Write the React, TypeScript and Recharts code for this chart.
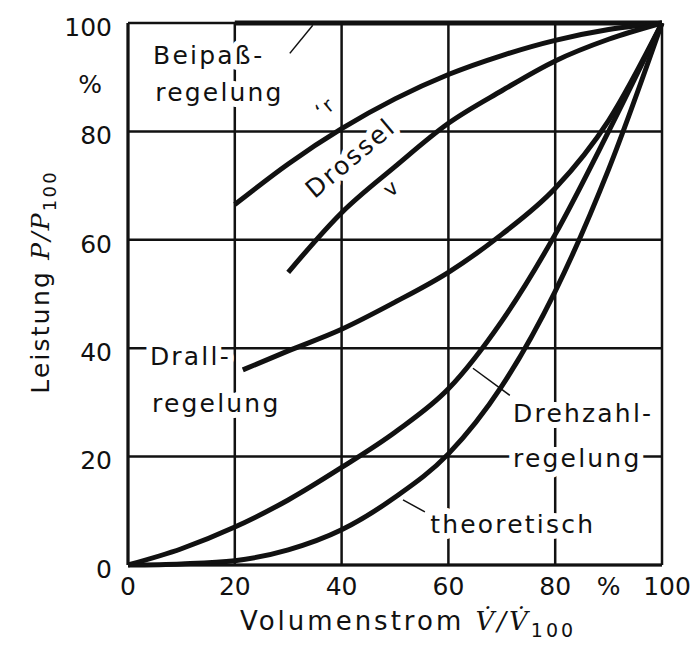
import { CartesianGrid, ComposedChart, Label, Line, Scatter, XAxis, YAxis } from 'recharts';

// Leistungsbedarf bei verschiedenen Regelungsarten
const beipassX = [20, 100];
const beipassY = [100, 100];
const drosselRX = [20, 30, 40, 50, 60, 70, 80, 90, 100];
const drosselRY = [66.5, 74, 80.5, 86, 90.5, 94, 96.8, 98.8, 100];
const drosselVX = [30, 40, 50, 60, 70, 80, 90, 100];
const drosselVY = [54, 65, 73.5, 81.5, 87.5, 93, 97, 100];
const drallX = [21.5, 30, 40, 50, 60, 70, 80, 90, 100];
const drallY = [36, 39.5, 43.5, 48.5, 54, 61, 69.5, 82, 100];
const drehzahlX = [0, 10, 20, 30, 40, 50, 60, 70, 80, 90, 100];
const drehzahlY = [0, 3, 7, 12, 18, 24.5, 32.5, 45, 61, 80, 100];
const theoX = [0, 10, 20, 30, 40, 50, 60, 70, 80, 90, 100];
const theoY = [0, 0.2, 0.8, 2.8, 6.5, 12.5, 20.5, 33, 50.5, 73, 100];

const gridValues = [0, 20, 40, 60, 80, 100];
const xTicks = [0, 20, 40, 60, 80, 90, 100];
const xTickLabels = ['0', '20', '40', '60', '80', '%', '100'];
const yTicks = [0, 20, 40, 60, 80, 89.5, 100];
const yTickLabels = ['0', '20', '40', '60', '80', '%', '100'];

// Beschriftungen im Diagramm (Ankerpunkt in Achsenwerten)
const notes = [
  { x: 4.7, y: 92.4, text: 'Beipaß-', anchor: 'start', angle: 0, size: 25 },
  { x: 5.1, y: 85.6, text: 'regelung', anchor: 'start', angle: 0, size: 25 },
  { x: 37.8, y: 83.5, text: '‘r', anchor: 'middle', angle: -40, size: 20 },
  { x: 42.7, y: 73.9, text: 'Drossel', anchor: 'middle', angle: -40, size: 25 },
  { x: 50.2, y: 68.6, text: 'v', anchor: 'middle', angle: -40, size: 21 },
  { x: 4.1, y: 36.9, text: 'Drall-', anchor: 'start', angle: 0, size: 25 },
  { x: 4.5, y: 28.2, text: 'regelung', anchor: 'start', angle: 0, size: 25 },
  { x: 72.1, y: 26.4, text: 'Drehzahl-', anchor: 'start', angle: 0, size: 25 },
  { x: 72.1, y: 18.1, text: 'regelung', anchor: 'start', angle: 0, size: 25 },
  { x: 56.6, y: 5.9, text: 'theoretisch', anchor: 'start', angle: 0, size: 25 },
];

const leaders = [
  [{ x: 30.3, y: 94.4 }, { x: 34.6, y: 99.6 }],
  [{ x: 64.6, y: 36.3 }, { x: 71.5, y: 31.3 }],
  [{ x: 51.5, y: 12.0 }, { x: 55.6, y: 9.8 }],
];

const pts = (xs: number[], ys: number[]) => xs.map((x, i) => ({ x, y: ys[i] }));

const curves = [
  { name: 'beipass', data: pts(beipassX, beipassY), type: 'linear' },
  { name: 'drosselR', data: pts(drosselRX, drosselRY), type: 'monotone' },
  { name: 'drosselV', data: pts(drosselVX, drosselVY), type: 'monotone' },
  { name: 'drall', data: pts(drallX, drallY), type: 'monotone' },
  { name: 'drehzahl', data: pts(drehzahlX, drehzahlY), type: 'monotone' },
  { name: 'theoretisch', data: pts(theoX, theoY), type: 'monotone' },
];

const INK = '#111';
const SANS = '"DejaVu Sans", sans-serif';

function Note(props: any) {
  const { cx, cy, payload } = props;
  return (
    <text
      x={cx}
      y={cy}
      textAnchor={payload.anchor}
      transform={payload.angle ? `rotate(${payload.angle} ${cx} ${cy})` : undefined}
      fontFamily={SANS}
      fontSize={payload.size}
      letterSpacing={2.2}
      fill={INK}
      stroke="#fff"
      strokeWidth={12}
      strokeLinejoin="round"
      paintOrder="stroke"
    >
      {payload.text}
    </text>
  );
}

function XTick(props: any) {
  const { x, y, payload, index } = props;
  const label = xTickLabels[index] ?? String(payload.value);
  return (
    <text
      x={x}
      y={y}
      dx={label === '100' ? 5 : 0}
      dy="0.71em"
      textAnchor="middle"
      fontFamily={SANS}
      fontSize={25}
      fill={INK}
    >
      {label}
    </text>
  );
}

function YTick(props: any) {
  const { x, y, payload, index } = props;
  const label = yTickLabels[index] ?? String(payload.value);
  return (
    <text
      x={x}
      y={y + 4}
      dx={label === '%' ? -10 : 0}
      dy="0.355em"
      textAnchor="end"
      fontFamily={SANS}
      fontSize={25}
      fill={INK}
    >
      {label}
    </text>
  );
}

export default function App() {
  return (
    <div style={{ position: 'absolute', left: 0, top: 0, background: '#fff' }}>
      <ComposedChart width={699} height={652} margin={{ top: 23, right: 37, bottom: 27, left: 68 }}>
        <CartesianGrid
          stroke={INK}
          strokeWidth={2.5}
          {...({ verticalValues: gridValues, horizontalValues: gridValues } as any)}
        />
        <XAxis
          type="number"
          dataKey="x"
          domain={[0, 100]}
          ticks={xTicks}
          tickLine={false}
          tickSize={0}
          tickMargin={12}
          tick={<XTick />}
          height={60}
          axisLine={{ stroke: INK, strokeWidth: 3 }}
          interval={0}
        >
          <Label
            content={() => (
              <text x={408} y={630} textAnchor="middle" fontFamily={SANS} fontSize={26} fill={INK} letterSpacing={3}>
                Volumenstrom{' '}
                <tspan fontFamily='"DejaVu Serif", serif' fontStyle="italic">V̇/V̇</tspan>
                <tspan fontSize={19} dy={7}>100</tspan>
              </text>
            )}
          />
        </XAxis>
        <YAxis
          type="number"
          dataKey="y"
          domain={[0, 100]}
          ticks={yTicks}
          tickLine={false}
          tickSize={0}
          tickMargin={16}
          tick={<YTick />}
          width={60}
          axisLine={{ stroke: INK, strokeWidth: 3 }}
          interval={0}
        >
          <Label
            content={() => (
              <text
                x={49}
                y={282}
                transform="rotate(-90 49 282)"
                textAnchor="middle"
                fontFamily={SANS}
                fontSize={25}
                fill={INK}
                letterSpacing={2.2}
              >
                Leistung{' '}
                <tspan fontFamily='"DejaVu Serif", serif' fontStyle="italic">P/P</tspan>
                <tspan fontSize={18} dy={7}>100</tspan>
              </text>
            )}
          />
        </YAxis>
        {curves.map((c) => (
          <Line
            key={c.name}
            data={c.data}
            dataKey="y"
            type={c.type as any}
            stroke={INK}
            strokeWidth={5}
            dot={false}
            activeDot={false}
            isAnimationActive={false}
          />
        ))}
        {leaders.map((l, i) => (
          <Line
            key={'leader' + i}
            data={l}
            dataKey="y"
            type="linear"
            stroke={INK}
            strokeWidth={1.5}
            dot={false}
            activeDot={false}
            isAnimationActive={false}
          />
        ))}
        <Scatter data={notes} dataKey="y" shape={<Note />} isAnimationActive={false} />
      </ComposedChart>
    </div>
  );
}
